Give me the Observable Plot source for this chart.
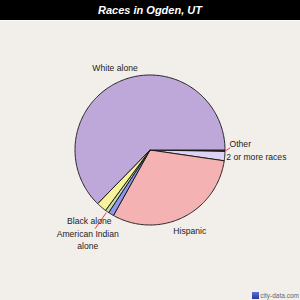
<!DOCTYPE html>
<html>
<head>
<meta charset="utf-8">
<script src="https://cdn.jsdelivr.net/npm/d3@7"></script>
<script src="https://cdn.jsdelivr.net/npm/@observablehq/plot@0.6"></script>
<style>
  html, body { margin: 0; padding: 0; }
  body { width: 300px; height: 300px; background: #f2efeb; position: relative; overflow: hidden; font-family: "Liberation Sans", Arial, sans-serif; }
  #title { height: 20px; background: #000; color: #fff; font: italic bold 11px "Liberation Sans", Arial, sans-serif; text-align: center; line-height: 21px; border-bottom: 1px solid #fbfaf8; }
  #chart svg { display: block; }
  #wm { position: absolute; right: 1px; bottom: 1px; font: 6.5px "Liberation Sans", Arial, sans-serif; color: #666; display: flex; align-items: center; gap: 1px; }
  #wm span.icon { display: inline-block; width: 7px; height: 7px; background: linear-gradient(#5a6ee0, #2b3a8a); }
</style>
</head>
<body>
<div id="title">Races in Ogden, UT</div>
<div id="chart"></div>
<div id="wm"><span class="icon"></span><span>city-data.com</span></div>
<script>
// ---- data ----
const names  = ["Other", "2 or more races", "Hispanic", "Asian alone", "American Indian alone", "Black alone", "White alone"];
const shares = [0.3, 2.0, 30.8, 1.2, 0.8, 2.2, 62.7];
const labels = ["Other", "2 or more races", "Hispanic", "", "American Indian\nalone", "Black alone", "White alone"];
const colors = ["#7a5a3c", "#ddd4f4", "#f5b2b2", "#8c98ee", "#c7dcab", "#f8f39b", "#bea8da"];

// ---- layout (label placement, not data) ----
const labelLayout = {
  "Other":                 {r: 1.06, dy: -7,  anchor: "start"},
  "2 or more races":       {r: 1.02, dy: 1,   anchor: "start"},
  "Hispanic":              {r: 1.2,  dy: 0,   anchor: "middle"},
  "Asian alone":           null,
  "American Indian alone": {r: 1.45, dy: 0,   anchor: "middle"},
  "Black alone":           {r: 1.25, dy: -1,  anchor: "middle"},
  "White alone":           {r: 1.2,  dy: 0,   anchor: "middle"}
};
const leaders = {
  "Other": {r1: 1.01, r2: 1.07, dy2: -3},
  "American Indian alone": {r1: 1.02, r2: 1.28, dy2: 0}
};
const R = 75; // px per data unit

const total = d3.sum(shares);
let acc = 0;
const slices = names.map((n, i) => {
  const a0 = acc / total * 360;
  acc += shares[i];
  const a1 = acc / total * 360;
  return {name: n, a0, a1, mid: (a0 + a1) / 2, label: labels[i], color: colors[i]};
});
const rad = a => a * Math.PI / 180;
const pt = (a, r) => ({x: r * Math.cos(rad(a)), y: -r * Math.sin(rad(a))});

const polyPts = [];
for (const s of slices) {
  polyPts.push({name: s.name, ...pt(0, 0)});
  const steps = Math.max(2, Math.ceil((s.a1 - s.a0) / 1));
  for (let k = 0; k <= steps; k++) {
    polyPts.push({name: s.name, ...pt(s.a0 + (s.a1 - s.a0) * k / steps, 1)});
  }
  polyPts.push({name: s.name, ...pt(0, 0)});
}

const labelPts = slices.filter(s => s.label && labelLayout[s.name]).map(s => {
  const L = labelLayout[s.name];
  const p = pt(s.mid, L.r);
  return {text: s.label, x: p.x, y: p.y - L.dy / R, anchor: L.anchor};
});

const leaderPts = slices.filter(s => leaders[s.name]).map(s => {
  const L = leaders[s.name];
  const p1 = pt(s.mid, L.r1), p2 = pt(s.mid, L.r2);
  return {x1: p1.x, y1: p1.y, x2: p2.x, y2: p2.y - L.dy2 / R};
});

const cx = 149.5, cy = 128.5;
const chart = Plot.plot({
  width: 300,
  height: 279,
  margin: 0,
  style: {background: "transparent", fontFamily: "Liberation Sans, Arial, sans-serif"},
  x: {domain: [-1, 1], range: [cx - R, cx + R], axis: null},
  y: {domain: [-1, 1], range: [cy + R, cy - R], axis: null},
  color: {domain: names, range: colors},
  marks: [
    Plot.line(polyPts, {x: "x", y: "y", z: "name", fill: "name", stroke: "#111", strokeWidth: 0.9, curve: "linear", strokeLinejoin: "round"}),
    Plot.link(leaderPts, {x1: "x1", y1: "y1", x2: "x2", y2: "y2", stroke: "#e8202a", strokeWidth: 0.9}),
    Plot.text(labelPts.filter(d => d.anchor === "start"), {x: "x", y: "y", text: "text", textAnchor: "start", fontSize: 8.6, fill: "#222"}),
    Plot.text(labelPts.filter(d => d.anchor === "middle"), {x: "x", y: "y", text: "text", textAnchor: "middle", fontSize: 8.6, fill: "#222", lineHeight: 1.35})
  ]
});
document.getElementById("chart").appendChild(chart);
</script>
</body>
</html>
